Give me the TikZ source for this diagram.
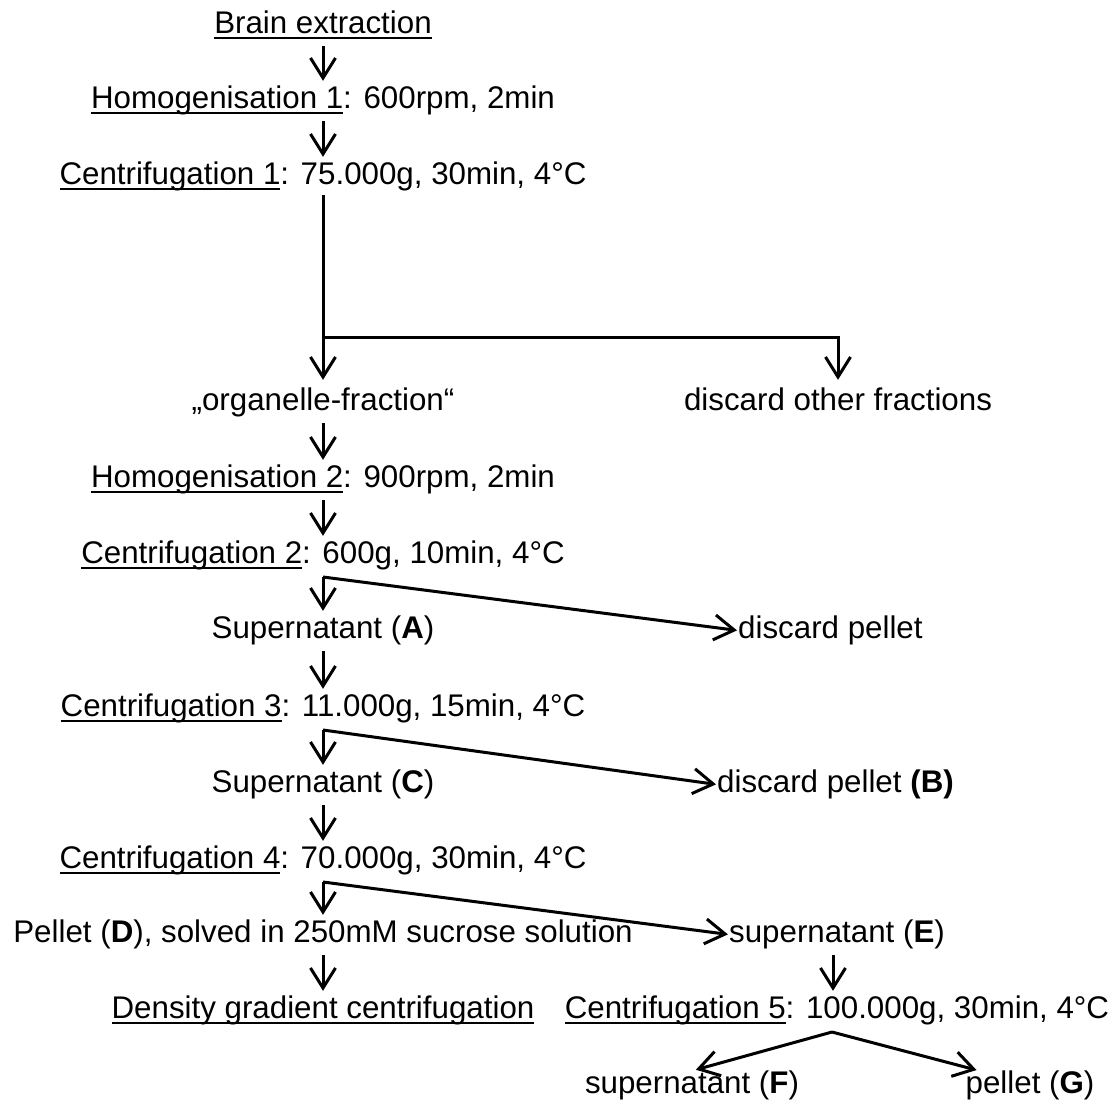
\documentclass[tikz,border=0pt]{standalone}
\usepackage{fontspec}
\setmainfont{Liberation Sans}
\usetikzlibrary{arrows.meta}
\newcommand\myul[1]{\setbox0\hbox{#1}\rlap{\rule[-6pt]{\wd0}{2.4pt}}\box0}
\begin{document}
\begin{tikzpicture}[x=1pt,y=-1pt,
  txt/.style={font=\fontsize{31.3}{37}\selectfont, inner sep=0pt, text height=22pt, text depth=7pt, anchor=base},
  txtw/.style={txt, anchor=base west},
  arr/.style={line width=3pt, line join=miter, -{Straight Barb[length=20pt,width=25pt]}, shorten <=6pt, shorten >=5pt},
  br/.style={arr, shorten <=0pt}]
\useasboundingbox (0,0) rectangle (1118,1101);
\fill[white] (0,0) rectangle (1118,1101);
% main column
\node[txt] (brain) at (323,33) {\myul{Brain extraction}};
\node[txt] (h1) at (323,108) {\myul{Homogenisation 1}: 600rpm, 2min};
\node[txt] (c1) at (323,184) {\myul{Centrifugation 1}: 75.000g, 30min, 4°C};
\node[txt] (org) at (323,410) {„organelle-fraction“};
\node[txt] (disc) at (838,410) {discard other fractions};
\node[txt] (h2) at (323,487) {\myul{Homogenisation 2}: 900rpm, 2min};
\node[txt] (c2) at (323,563) {\myul{Centrifugation 2}: 600g, 10min, 4°C};
\node[txt] (supA) at (323,638) {Supernatant (\textbf{A})};
\node[txtw] (dpA) at (738,638) {discard pellet};
\node[txt] (c3) at (323,716) {\myul{Centrifugation 3}: 11.000g, 15min, 4°C};
\node[txt] (supC) at (323,792) {Supernatant (\textbf{C})};
\node[txtw] (dpB) at (717,792) {discard pellet \textbf{(B)}};
\node[txt] (c4) at (323,868) {\myul{Centrifugation 4}: 70.000g, 30min, 4°C};
\node[txt] (pelD) at (323,942) {Pellet (\textbf{D}), solved in 250mM sucrose solution};
\node[txt] (supE) at (837,942) {supernatant (\textbf{E})};
\node[txt] (dens) at (323,1018) {\myul{Density gradient centrifugation}};
\node[txt] (c5) at (837,1018) {\myul{Centrifugation 5}: 100.000g, 30min, 4°C};
\node[txt] (supF) at (692,1093) {supernatant (\textbf{F})};
\node[txt] (pelG) at (1030,1093) {pellet (\textbf{G})};
% junctions
\coordinate (j1) at (323,337);
\coordinate (j1r) at (838,337);
\coordinate (j2) at (323,577);
\coordinate (j3) at (323,730);
\coordinate (j4) at (323,882);
\coordinate (j5) at (832,1032);
% connectors
\draw[arr] (brain.south) -- (h1.north);
\draw[arr] (h1.south) -- (c1.north);
\draw[arr, shorten <=4pt, shorten >=8pt] (c1.south) -- (j1) -- (j1r) -- (disc.north);
\draw[br, shorten >=8pt] (j1) -- (org.north);
\draw[arr] (org.south) -- (h2.north);
\draw[arr] (h2.south) -- (c2.north);
\draw[br] (j2) -- (supA.north);
\draw[br, shorten >=1pt] (j2) -- (dpA.west);
\draw[arr] (supA.south) -- (c3.north);
\draw[br] (j3) -- (supC.north);
\draw[br, shorten >=1pt] (j3) -- (dpB.west);
\draw[arr] (supC.south) -- (c4.north);
\draw[br] (j4) -- (pelD.north);
\draw[br, shorten >=1pt] (j4) -- (supE.west);
\draw[arr] (pelD.south) -- (dens.north);
\draw[arr] ([xshift=-4pt]supE.south) -- ([xshift=-4pt]supE.south |- c5.north);
\draw[br, shorten >=4pt] (j5) -- (supF.north);
\draw[br, shorten >=3pt] (j5) -- ([xshift=14pt]pelG.north west);
\end{tikzpicture}
\end{document}
